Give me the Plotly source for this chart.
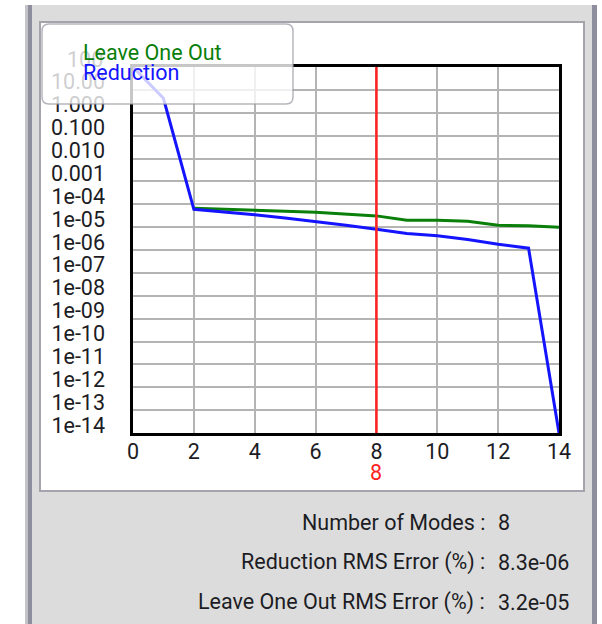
import plotly.graph_objects as go

# ---- data ----
modes = list(range(0, 15))
reduction_err = [100, 4.3, 6.0e-5, 4.6e-5, 3.5e-5, 2.5e-5, 1.8e-5, 1.2e-5, 8.1e-6,
                 5.3e-6, 4.2e-6, 2.9e-6, 1.8e-6, 1.2e-6, 1e-14]
loo_err = [None, None, 6.7e-5, 6.2e-5, 5.5e-5, 5.0e-5, 4.5e-5, 3.7e-5, 3.1e-5,
           2.0e-5, 2.0e-5, 1.8e-5, 1.2e-5, 1.15e-5, 1.0e-5]
selected_modes = 8
reduction_rms = "8.3e-06"
loo_rms = "3.2e-05"
x_ticks = [0, 2, 4, 6, 8, 10, 12, 14]
y_exps = list(range(2, -15, -1))
y_ticktext = ["100", "10.00", "1.000", "0.100", "0.010", "0.001"] + \
             ["1e-%02d" % (-e) for e in range(-4, -15, -1)]

W, H = 602, 624
L, R, T, B = 133, 559, 67, 433
FONT = "Roboto"
FS = 21.5
TXT = "#1c1c24"
LABEL_SHIFT = 0.35  # labels sit slightly above their gridlines (in decades)


def px(x):
    return (x - L) / (R - L)


def py(y):
    return (B - y) / (B - T)


fig = go.Figure()
fig.add_trace(go.Scatter(x=modes, y=loo_err, mode="lines", name="Leave One Out",
                         line=dict(color="#0a800a", width=3), connectgaps=False))
fig.add_trace(go.Scatter(x=modes, y=reduction_err, mode="lines", name="Reduction",
                         line=dict(color="#1414ff", width=3)))

shapes = []
# window background pieces
shapes.append(dict(type="rect", xref="paper", yref="paper", x0=px(30), x1=px(593),
                   y0=py(5), y1=py(626), fillcolor="#dcdcdc", line_width=0, layer="below"))
shapes.append(dict(type="rect", xref="paper", yref="paper", x0=px(25), x1=px(28),
                   y0=py(5), y1=py(626), fillcolor="#c4c4c8", line_width=0, layer="below"))
shapes.append(dict(type="rect", xref="paper", yref="paper", x0=px(28), x1=px(32),
                   y0=py(5), y1=py(626), fillcolor="#8e8e9e", line_width=0, layer="below"))
shapes.append(dict(type="rect", xref="paper", yref="paper", x0=px(592), x1=px(597),
                   y0=py(5), y1=py(626), fillcolor="#8e8e9e", line_width=0, layer="below"))
# white chart panel
shapes.append(dict(type="rect", xref="paper", yref="paper", x0=px(40), x1=px(584),
                   y0=py(22), y1=py(491), fillcolor="white",
                   line=dict(color="#a4a4ac", width=2), layer="below"))
# selected-mode marker
shapes.append(dict(type="line", xref="x", yref="paper", x0=selected_modes, x1=selected_modes,
                   y0=0, y1=1, line=dict(color="#ff2020", width=2.5), layer="above"))
# legend box (rounded)
x0, x1, y0, y1, r = 42, 293, 24, 104, 7
path = (f"M {px(x0 + r)},{py(y0)} L {px(x1 - r)},{py(y0)} "
        f"Q {px(x1)},{py(y0)} {px(x1)},{py(y0 + r)} L {px(x1)},{py(y1 - r)} "
        f"Q {px(x1)},{py(y1)} {px(x1 - r)},{py(y1)} L {px(x0 + r)},{py(y1)} "
        f"Q {px(x0)},{py(y1)} {px(x0)},{py(y1 - r)} L {px(x0)},{py(y0 + r)} "
        f"Q {px(x0)},{py(y0)} {px(x0 + r)},{py(y0)} Z")
shapes.append(dict(type="path", xref="paper", yref="paper", path=path,
                   fillcolor="rgba(255,255,255,0.78)",
                   line=dict(color="rgba(150,150,160,0.7)", width=1.5), layer="above"))

annotations = [
    # top tick label (outside the shifted label axis range); seen through the legend box
    dict(text=y_ticktext[0], x=px(105), y=y_exps[0], xref="paper", yref="y",
         xanchor="right", yanchor="middle", yshift=8, showarrow=False,
         font=dict(family=FONT, size=FS, color="#cfcfd2")),
    dict(text="Leave One Out", x=px(81), y=py(52), xref="paper", yref="paper",
         xanchor="left", yanchor="middle", showarrow=False,
         font=dict(family=FONT, size=FS, color="#0a800a")),
    dict(text="Reduction", x=px(81), y=py(72), xref="paper", yref="paper",
         xanchor="left", yanchor="middle", showarrow=False,
         font=dict(family=FONT, size=FS, color="#1414ff")),
    dict(text=str(selected_modes), x=selected_modes, y=py(473), xref="x", yref="paper",
         xanchor="center", yanchor="middle", showarrow=False,
         font=dict(family=FONT, size=FS, color="#ff2020")),
]
info_rows = [("Number of Modes :", str(selected_modes), 522),
             ("Reduction RMS Error (%) :", reduction_rms, 562),
             ("Leave One Out RMS Error (%) :", loo_rms, 602)]
for lab, val, yy in info_rows:
    annotations.append(dict(text=lab, x=px(487), y=py(yy), xref="paper", yref="paper",
                            xanchor="right", yanchor="middle", showarrow=False,
                            font=dict(family=FONT, size=FS, color=TXT)))
    annotations.append(dict(text=val, x=px(496), y=py(yy), xref="paper", yref="paper",
                            xanchor="left", yanchor="middle", showarrow=False,
                            font=dict(family=FONT, size=FS, color=TXT)))

fig.update_layout(
    width=W, height=H,
    margin=dict(l=L, r=W - R, t=T, b=H - B, pad=0),
    paper_bgcolor="white", plot_bgcolor="white",
    showlegend=False,
    shapes=shapes, annotations=annotations,
    font=dict(family=FONT, size=FS, color=TXT),
)
fig.update_xaxes(range=[0, 14], tickvals=x_ticks, ticks="", showgrid=True,
                 gridcolor="#b4b4b4", gridwidth=1.5, zeroline=False,
                 showline=True, linecolor="black", linewidth=3, mirror=True,
                 tickfont=dict(family=FONT, size=FS, color=TXT), ticklabelstandoff=-3)
# main y axis: gridlines + frame, no labels
fig.update_yaxes(type="log", range=[-14, 2], tickvals=[10 ** e for e in y_exps],
                 ticks="", showgrid=True, showticklabels=False,
                 gridcolor="#b4b4b4", gridwidth=1.5, zeroline=False,
                 showline=True, linecolor="black", linewidth=3, mirror=True)
# label axis: same scale, shifted so labels sit just above their gridlines
fig.update_layout(yaxis2=dict(
    type="log", overlaying="y", side="left", anchor="x",
    range=[-14 - LABEL_SHIFT, 2 - LABEL_SHIFT],
    tickvals=[10 ** e for e in y_exps], ticktext=y_ticktext,
    ticks="", showgrid=False, zeroline=False, showline=False,
    ticklabelstandoff=27, tickfont=dict(family=FONT, size=FS, color=TXT)))
fig.add_trace(go.Scatter(x=[None], y=[None], yaxis="y2", showlegend=False,
                         hoverinfo="skip"))

fig.write_html("out.html")
